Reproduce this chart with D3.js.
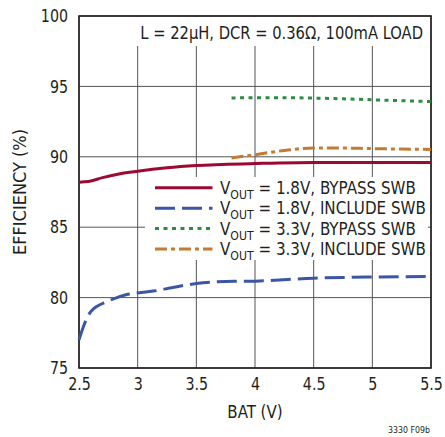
<!DOCTYPE html>
<html>
<head>
<meta charset="utf-8">
<script src="https://cdn.jsdelivr.net/npm/d3@7"></script>
<style>
  body { margin: 0; background: #fff; }
  svg text { font-family: "Liberation Sans Narrow", "DejaVu Sans Condensed", "Roboto Condensed", "Liberation Sans", sans-serif; fill: #231f20; }
</style>
</head>
<body>
<script>
const width = 445;
const height = 437;
const margin = { top: 16, right: 14, bottom: 69, left: 79 };
const narrow = 0.88; // the reference uses a condensed face

// data
const xTicks = [2.5, 3, 3.5, 4, 4.5, 5, 5.5];
const yTicks = [75, 80, 85, 90, 95, 100];

const bat18Bypass = [2.5, 2.58, 2.7, 2.85, 3.0, 3.25, 3.5, 4.0, 4.5, 5.0, 5.5];
const eff18Bypass = [88.2, 88.24, 88.52, 88.8, 88.98, 89.22, 89.38, 89.52, 89.6, 89.6, 89.6];

const bat18Include = [2.5, 2.55, 2.6, 2.75, 2.9, 3.0, 3.15, 3.3, 3.5, 3.75, 4.0, 4.5, 5.0, 5.5];
const eff18Include = [77.0, 78.2, 79.0, 79.75, 80.2, 80.33, 80.48, 80.72, 81.0, 81.15, 81.17, 81.38, 81.46, 81.5];

const bat33Bypass = [3.8, 4.0, 4.25, 4.5, 4.75, 5.0, 5.25, 5.5];
const eff33Bypass = [94.17, 94.2, 94.2, 94.17, 94.12, 94.05, 93.98, 93.93];

const bat33Include = [3.8, 4.0, 4.25, 4.5, 4.75, 5.0, 5.25, 5.5];
const eff33Include = [89.92, 90.15, 90.45, 90.62, 90.62, 90.58, 90.55, 90.52];

const seriesNames = ["1.8V, BYPASS SWB", "1.8V, INCLUDE SWB", "3.3V, BYPASS SWB", "3.3V, INCLUDE SWB"];

const series = [
  { name: seriesNames[0], x: bat18Bypass, y: eff18Bypass, color: "#9c0a33", dash: null },
  { name: seriesNames[1], x: bat18Include, y: eff18Include, color: "#3c56a6", dash: "20,7" },
  { name: seriesNames[2], x: bat33Bypass, y: eff33Bypass, color: "#2e8b44", dash: "4,4.5" },
  { name: seriesNames[3], x: bat33Include, y: eff33Include, color: "#c47a34", dash: "12,4,4,4" },
];

const svg = d3.select("body").append("svg")
  .attr("width", width)
  .attr("height", height);

const x = d3.scaleLinear().domain([2.5, 5.5]).range([margin.left, width - margin.right]);
const y = d3.scaleLinear().domain([75, 100]).range([height - margin.bottom, margin.top]);

// text placed at (ax, ay) and squeezed horizontally
function label(ax, ay, txt, size, anchor, sx) {
  return svg.append("g")
    .attr("transform", `translate(${ax},${ay}) scale(${sx},1)`)
    .append("text")
    .attr("text-anchor", anchor)
    .attr("font-size", size)
    .text(txt);
}

// grid
svg.append("g")
  .selectAll("line")
  .data(xTicks)
  .join("line")
  .attr("x1", (d) => x(d)).attr("x2", (d) => x(d))
  .attr("y1", y(75)).attr("y2", y(100))
  .attr("stroke", "#555").attr("stroke-width", 1);

svg.append("g")
  .selectAll("line")
  .data(yTicks)
  .join("line")
  .attr("x1", x(2.5)).attr("x2", x(5.5))
  .attr("y1", (d) => y(d)).attr("y2", (d) => y(d))
  .attr("stroke", "#555").attr("stroke-width", 1);

// boxes hiding the grid behind the texts
svg.append("rect")
  .attr("x", 137).attr("y", y(100) + 1)
  .attr("width", x(5.5) - 138).attr("height", 29)
  .attr("fill", "#fff");

svg.append("rect")
  .attr("x", 145).attr("y", 177)
  .attr("width", 283).attr("height", 83)
  .attr("fill", "#fff");

// frame
svg.append("rect")
  .attr("x", x(2.5)).attr("y", y(100))
  .attr("width", x(5.5) - x(2.5)).attr("height", y(75) - y(100))
  .attr("fill", "none").attr("stroke", "#231f20").attr("stroke-width", 1.6);

// axes labels
const xAxis = d3.axisBottom(x).tickValues(xTicks).tickSize(0).tickPadding(9)
  .tickFormat(d3.format("~g"));
const gx = svg.append("g").attr("transform", `translate(0,${y(75)})`).call(xAxis);
gx.select(".domain").remove();
gx.selectAll("text")
  .attr("font-size", 18).attr("font-family", null).attr("fill", null)
  .attr("transform", `scale(${narrow},1)`);

const yAxis = d3.axisLeft(y).tickValues(yTicks).tickSize(0).tickPadding(11);
const gy = svg.append("g").attr("transform", `translate(${x(2.5)},0)`).call(yAxis);
gy.select(".domain").remove();
gy.selectAll("text")
  .attr("font-size", 18).attr("font-family", null).attr("fill", null)
  .attr("x", -11 / narrow)
  .attr("transform", `scale(${narrow},1)`);

// curves
const line = d3.line()
  .x((d) => x(d[0]))
  .y((d) => y(d[1]))
  .curve(d3.curveMonotoneX);

svg.append("g")
  .selectAll("path")
  .data(series)
  .join("path")
  .attr("d", (s) => line(s.x.map((v, i) => [v, s.y[i]])))
  .attr("fill", "none")
  .attr("stroke", (s) => s.color)
  .attr("stroke-width", 3)
  .attr("stroke-dasharray", (s) => s.dash);

// legend
const legend = svg.append("g");
const rowY = (i) => 187.8 + i * 20.4;

legend.selectAll("line")
  .data(series)
  .join("line")
  .attr("x1", 155).attr("x2", 212.5)
  .attr("y1", (s, i) => rowY(i)).attr("y2", (s, i) => rowY(i))
  .attr("stroke", (s) => s.color)
  .attr("stroke-width", 3)
  .attr("stroke-dasharray", (s) => s.dash);

const lt = legend.selectAll("g")
  .data(series)
  .join("g")
  .attr("transform", (s, i) => `translate(220,${rowY(i) + 6}) scale(0.935,1)`)
  .append("text")
  .attr("font-size", 18);
lt.append("tspan").text("V");
lt.append("tspan").attr("font-size", 13).attr("dy", 5).text("OUT");
lt.append("tspan").attr("dy", -5).text((s) => ` = ${s.name}`);

// titles
label(x(5.5) - 8, 39, "L = 22µH, DCR = 0.36Ω, 100mA LOAD", 18, "end", 0.91);
label((x(2.5) + x(5.5)) / 2, 418, "BAT (V)", 18, "middle", 0.93);

svg.append("text")
  .attr("transform", `translate(26,${(y(75) + y(100)) / 2}) rotate(-90)`)
  .attr("text-anchor", "middle")
  .attr("font-size", 18)
  .text("EFFICIENCY (%)");

label(x(5.5) - 1, 433, "3330 F09b", 9.5, "end", 0.92);
</script>
</body>
</html>
